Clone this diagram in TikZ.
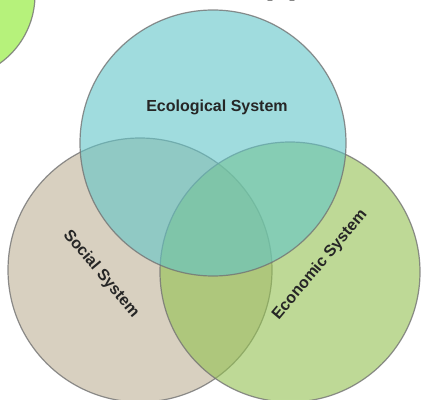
\documentclass[tikz,border=0pt]{standalone}
\usepackage{fontspec}
\setmainfont{Liberation Sans}
\definecolor{ecocol}{RGB}{97,197,200}
\definecolor{soccol}{RGB}{190,177,150}
\definecolor{econcol}{RGB}{147,193,80}
\definecolor{lime}{RGB}{170,240,100}
\begin{document}
\begin{tikzpicture}[
  ring/.style={draw=gray!90!black,line width=1.2pt,fill opacity=0.6,draw opacity=0.8},
  lbl/.style={font=\fontsize{16}{16}\selectfont\bfseries,text=black!85,inner sep=0}]
\clip (0,0) rectangle (422pt,399pt);
\fill[white] (0,0) rectangle (422pt,399pt);
\draw[ring,fill=lime,fill opacity=0.85] (-49pt,404pt) circle (84pt);
\node[anchor=base west,inner sep=0,font=\fontsize{36}{36}\selectfont\bfseries] (head) at (265.5pt,405.5pt) {pp};
\coordinate (S) at (140pt,129pt);
\coordinate (C) at (290pt,127pt);
\coordinate (E) at (213pt,256pt);
\draw[ring,fill=soccol] (S) circle (132pt);
\draw[ring,fill=econcol] (C) circle (130pt);
\draw[ring,fill=ecocol] (E) circle (133pt);
\node[lbl] (eco) at (217pt,292pt) {Ecological System};
\node[lbl,rotate=-50] (soc) at (101pt,125pt) {Social System};
\node[lbl,rotate=50] (econ) at (320pt,134pt) {Economic System};
\end{tikzpicture}
\end{document}
